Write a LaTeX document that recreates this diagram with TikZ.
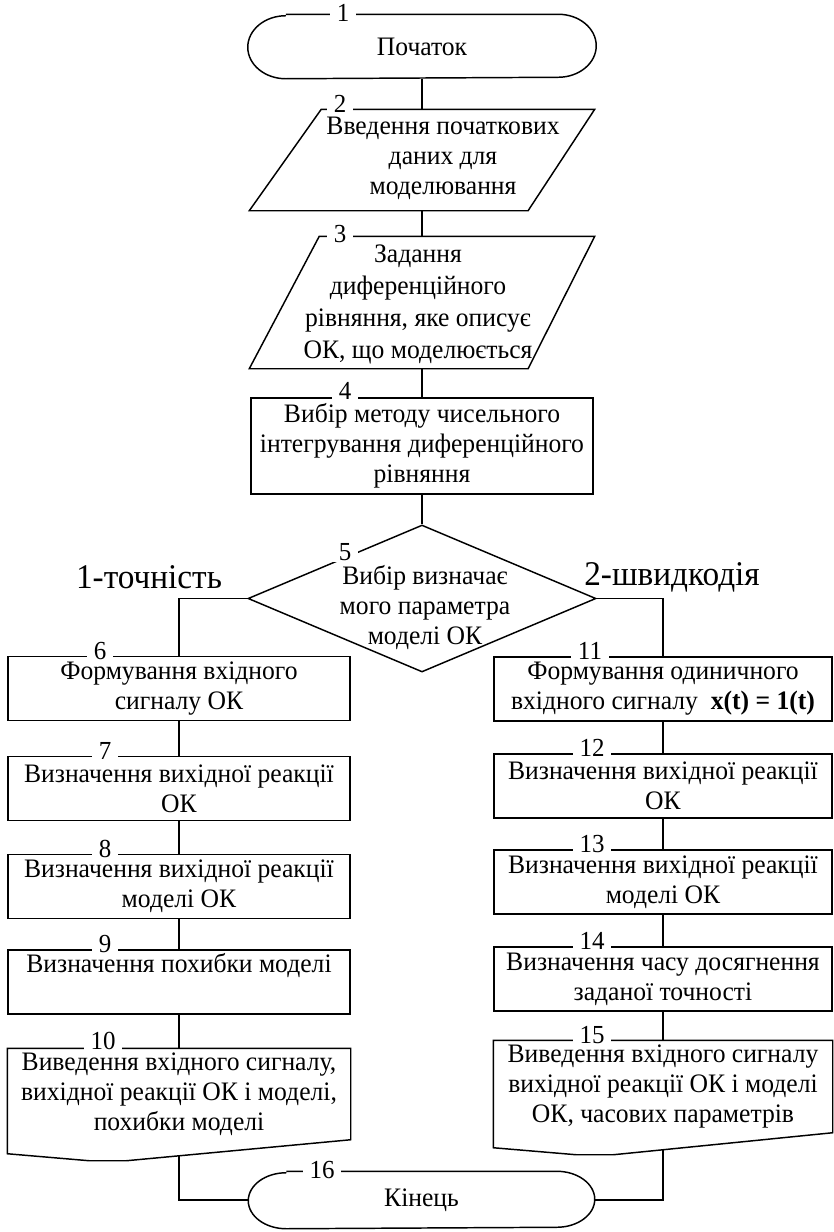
\documentclass[tikz,border=0pt]{standalone}
\usepackage{fontspec}
\setmainfont{Liberation Serif}[FakeStretch=0.96]
\usetikzlibrary{shapes.geometric,calc}

\begin{document}
\begin{tikzpicture}[x=0.75pt, y=0.75pt, line width=1.1pt,
    txt/.style={font=\fontsize{20}{22.5}\selectfont, align=center, inner sep=0pt},
    blok/.style={txt, draw, minimum width=256.5pt, minimum height=48pt},
    rblok/.style={blok, minimum width=253.5pt},
    num/.style={font=\fontsize{19.5}{19.5}\selectfont, fill=white, anchor=base, inner xsep=5pt, inner ysep=1.5pt},
    gilka/.style={font=\fontsize{26}{26}\selectfont}]
  \useasboundingbox (0,0) rectangle (834,-1232);

  % Блок 1: початок
  \node[txt, minimum width=260.25pt, minimum height=47.25pt] (b1) at (422,-46.5) {Початок};
  \draw ([xshift=28.5pt]b1.north west) -- ([xshift=-28.5pt]b1.north east)
        arc[start angle=90, end angle=-90, x radius=38, y radius=31.5]
        -- ([xshift=28.5pt]b1.south west)
        arc[start angle=270, end angle=90, x radius=38, y radius=31.5];
  \node[num] at (343,-21) {1};

  % Блок 2: введення даних
  \node[minimum width=258pt, minimum height=75pt] (b2) at (422,-160) {};
  \draw ([xshift=54pt]b2.north west) -- (b2.north east)
        -- ([xshift=-50pt]b2.south east) -- (b2.south west) -- cycle;
  \node[txt] (t2) at (443,-158) {Введення початкових\\даних для\\моделювання};
  \node[num] at (340,-112) {2};

  % Блок 3: задання рівняння
  \node[minimum width=258pt, minimum height=98.25pt] (b3) at (422,-302.5) {};
  \draw ([xshift=52.5pt]b3.north west) -- (b3.north east)
        -- ([xshift=-50pt]b3.south east) -- (b3.south west) -- cycle;
  \node[txt, font=\fontsize{20}{24}\selectfont] (t3) at (418,-304) {Задання\\диференційного\\рівняння, яке описує\\ОК, що моделюється};
  \node[num] at (340,-242) {3};

  % Блок 4: метод інтегрування
  \node[blok, minimum height=72pt] (b4) at (422,-446) {Вибір методу чисельного\\інтегрування диференційного\\рівняння};
  \node[num] at (345,-399) {4};

  % Блок 5: розгалуження
  \node[diamond, draw, minimum width=261pt, minimum height=110.25pt, inner sep=0pt] (b5) at (422,-598.5) {};
  \node[txt] (t5) at (425,-608) {Вибір визначає\\мого параметра\\моделі ОК};
  \node[num] at (345,-560) {5};
  \node[gilka] (g1) at (149,-577) {1-точність};
  \node[gilka] (g2) at (672,-577) {2-швидкодія};

  % Ліва гілка
  \node[blok] (b6) at (179,-688.5) {Формування вхідного\\сигналу ОК};
  \node[num] at (100,-659) {6};
  \node[blok] (b7) at (179,-788.5) {Визначення вихідної реакції\\ОК};
  \node[num] at (105,-759) {7};
  \node[blok] (b8) at (179,-886.5) {Визначення вихідної реакції\\моделі ОК};
  \node[num] at (105,-857) {8};
  \node[blok] (b9) at (179,-982) {Визначення похибки моделі\\\strut};
  \node[num] at (105,-952) {9};

  % Блок 10: виведення (документ)
  \node[txt, minimum width=256.5pt, minimum height=67.5pt] (b10) at (179,-1094) {Виведення вхідного сигналу,\\вихідної реакції ОК і моделі,\\похибки моделі};
  \draw ([yshift=-10.5pt]b10.south west) -- (b10.north west) -- (b10.north east) -- (b10.south east)
        -- ($(b10.south west)+(119,-21)$) -- ($(b10.south west)+(82,-21)$) -- cycle;
  \node[num] at (103,-1049) {10};

  % Права гілка
  \node[rblok] (b11) at (663,-689) {Формування одиничного\\вхідного сигналу~~\textbf{x(t) = 1(t)}};
  \node[num] at (590,-659) {11};
  \node[rblok] (b12) at (663,-786) {Визначення вихідної реакції\\ОК};
  \node[num] at (592,-756) {12};
  \node[rblok] (b13) at (663,-882) {Визначення вихідної реакції\\моделі ОК};
  \node[num] at (592,-852) {13};
  \node[rblok] (b14) at (663,-979) {Визначення часу досягнення\\заданої точності};
  \node[num] at (592,-949) {14};

  % Блок 15: виведення (документ)
  \node[txt, minimum width=253.5pt, minimum height=68.25pt] (b15) at (663,-1086.5) {Виведення вхідного сигналу\\вихідної реакції ОК і моделі\\ОК, часових параметрів};
  \draw ([yshift=-11.25pt]b15.south west) -- (b15.north west) -- (b15.north east) -- (b15.south east)
        -- ($(b15.south west)+(120,-22)$) -- ($(b15.south west)+(83,-22)$) -- cycle;
  \node[num] at (592,-1043) {15};

  % Блок 16: кінець
  \node[txt, minimum width=258.75pt, minimum height=42pt] (b16) at (421.5,-1200) {Кінець};
  \draw ([xshift=28.5pt]b16.north west) -- ([xshift=-28.5pt]b16.north east)
        arc[start angle=90, end angle=-90, x radius=38, y radius=28]
        -- ([xshift=28.5pt]b16.south west)
        arc[start angle=270, end angle=90, x radius=38, y radius=28];
  \node[num] at (322,-1178) {16};

  % З'єднання
  \draw (b1) -- (b2);
  \draw (b2) -- (b3);
  \draw (b3) -- (b4);
  \draw (b4) -- (b5);
  \draw (b5.west) -| (b6.north);
  \draw (b5.east) -| (b11.north);
  \draw (b6) -- (b7);
  \draw (b7) -- (b8);
  \draw (b8) -- (b9);
  \draw (b9) -- (b10);
  \draw (b11) -- (b12);
  \draw (b12) -- (b13);
  \draw (b13) -- (b14);
  \draw (b14) -- (b15);
  \coordinate (w10) at ($(b10.south)+(0,-16)$);
  \coordinate (w15) at ($(b15.south)+(0,-17)$);
  \draw (w10) |- (b16.west);
  \draw (w15) |- (b16.east);
\end{tikzpicture}
\end{document}
